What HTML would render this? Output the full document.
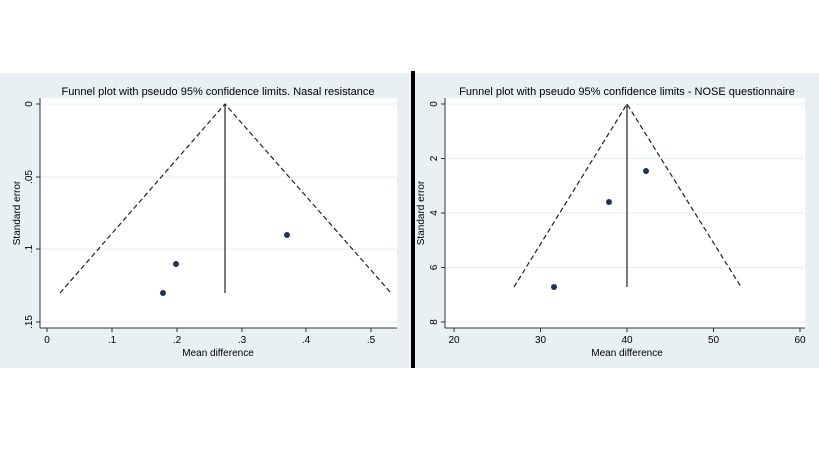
<!DOCTYPE html>
<html><head><style>html,body{margin:0;padding:0;background:#fff}svg{display:block}</style></head>
<body>
<svg width="819" height="452" viewBox="0 0 819 452" xmlns="http://www.w3.org/2000/svg" font-family="Liberation Sans, sans-serif" fill="#000">
<rect x="0" y="73" width="411" height="295" fill="#e9f0f3"/>
<rect x="415" y="73" width="404" height="295" fill="#e9f0f3"/>
<rect x="411" y="71" width="4" height="297" fill="#000"/>
<!-- Left panel -->
<rect x="40" y="98" width="357" height="230" fill="#fff"/>
<g stroke="#e9f0f3" stroke-width="1.2">
<line x1="40" y1="104" x2="397" y2="104"/><line x1="40" y1="177" x2="397" y2="177"/><line x1="40" y1="249" x2="397" y2="249"/><line x1="40" y1="322" x2="397" y2="322"/>
</g>
<g stroke="#333" stroke-width="1">
<line x1="40" y1="98" x2="40" y2="328"/><line x1="40" y1="328" x2="397" y2="328"/>
<line x1="36" y1="104" x2="40" y2="104"/><line x1="36" y1="177" x2="40" y2="177"/><line x1="36" y1="249" x2="40" y2="249"/><line x1="36" y1="322" x2="40" y2="322"/>
<line x1="47" y1="328" x2="47" y2="332"/><line x1="112" y1="328" x2="112" y2="332"/><line x1="177" y1="328" x2="177" y2="332"/><line x1="242" y1="328" x2="242" y2="332"/><line x1="306" y1="328" x2="306" y2="332"/><line x1="371" y1="328" x2="371" y2="332"/>
</g>
<g stroke="#222" stroke-width="1.2" fill="none">
<polyline points="60,293 225,104 391,293" stroke-dasharray="5,3"/>
<line x1="225" y1="104" x2="225" y2="293"/>
</g>
<g fill="#1c3559"><circle cx="287" cy="235" r="3"/><circle cx="176" cy="264" r="3"/><circle cx="163" cy="293" r="3"/></g>
<text x="218" y="95" font-size="11" text-anchor="middle">Funnel plot with pseudo 95% confidence limits. Nasal resistance</text>
<g font-size="10" text-anchor="middle">
<text transform="translate(32,104) rotate(-90)">0</text>
<text transform="translate(32,177) rotate(-90)">.05</text>
<text transform="translate(32,249) rotate(-90)">.1</text>
<text transform="translate(32,322) rotate(-90)">.15</text>
<text transform="translate(20,213) rotate(-90)">Standard error</text>
<text x="47" y="343">0</text><text x="112" y="343">.1</text><text x="177" y="343">.2</text><text x="242" y="343">.3</text><text x="306" y="343">.4</text><text x="371" y="343">.5</text>
<text x="218" y="356">Mean difference</text>
</g>
<!-- Right panel -->
<rect x="445" y="98" width="360" height="230" fill="#fff"/>
<g stroke="#e9f0f3" stroke-width="1.2">
<line x1="445" y1="104" x2="805" y2="104"/><line x1="445" y1="158.5" x2="805" y2="158.5"/><line x1="445" y1="213" x2="805" y2="213"/><line x1="445" y1="267.5" x2="805" y2="267.5"/><line x1="445" y1="322" x2="805" y2="322"/>
</g>
<g stroke="#333" stroke-width="1">
<line x1="445" y1="98" x2="445" y2="328"/><line x1="445" y1="328" x2="805" y2="328"/>
<line x1="441" y1="104" x2="445" y2="104"/><line x1="441" y1="158.5" x2="445" y2="158.5"/><line x1="441" y1="213" x2="445" y2="213"/><line x1="441" y1="267.5" x2="445" y2="267.5"/><line x1="441" y1="322" x2="445" y2="322"/>
<line x1="454" y1="328" x2="454" y2="332"/><line x1="540.5" y1="328" x2="540.5" y2="332"/><line x1="627" y1="328" x2="627" y2="332"/><line x1="713.5" y1="328" x2="713.5" y2="332"/><line x1="800" y1="328" x2="800" y2="332"/>
</g>
<g stroke="#222" stroke-width="1.2" fill="none">
<polyline points="514,287 627,104 741,287" stroke-dasharray="5,3"/>
<line x1="627" y1="104" x2="627" y2="287"/>
</g>
<g fill="#1c3559"><circle cx="646" cy="171" r="3"/><circle cx="609" cy="202" r="3"/><circle cx="554" cy="287" r="3"/></g>
<text x="627" y="95" font-size="11" text-anchor="middle">Funnel plot with pseudo 95% confidence limits - NOSE questionnaire</text>
<g font-size="10" text-anchor="middle">
<text transform="translate(437,104) rotate(-90)">0</text>
<text transform="translate(437,158.5) rotate(-90)">2</text>
<text transform="translate(437,213) rotate(-90)">4</text>
<text transform="translate(437,267.5) rotate(-90)">6</text>
<text transform="translate(437,322) rotate(-90)">8</text>
<text transform="translate(424,213) rotate(-90)">Standard error</text>
<text x="454" y="343">20</text><text x="540.5" y="343">30</text><text x="627" y="343">40</text><text x="713.5" y="343">50</text><text x="800" y="343">60</text>
<text x="627" y="356">Mean difference</text>
</g>
</svg>
</body></html>
